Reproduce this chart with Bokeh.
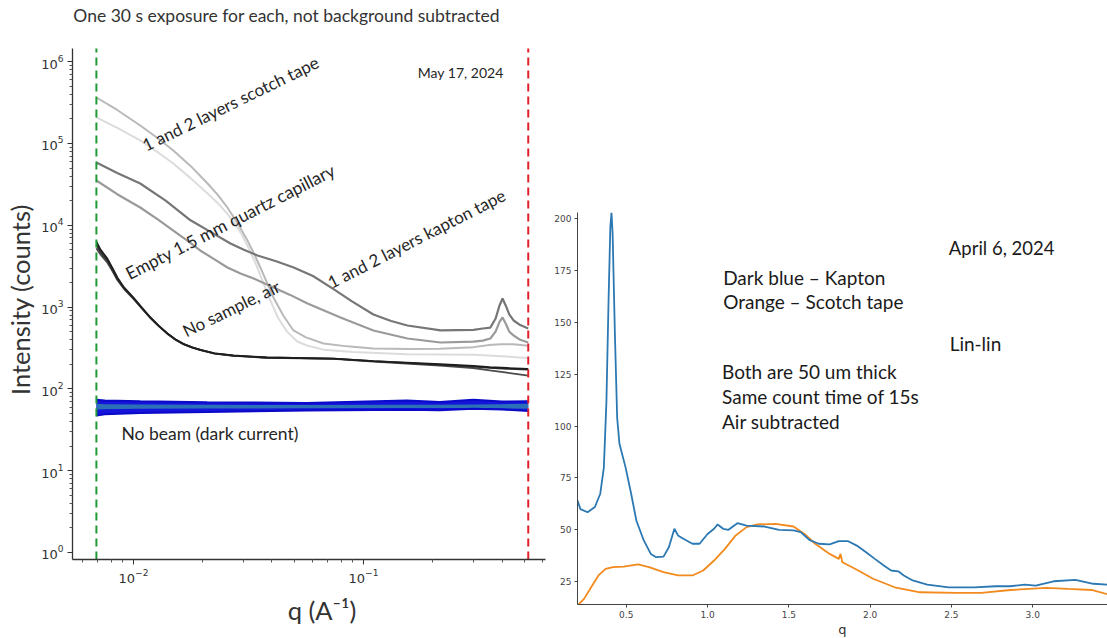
from bokeh.plotting import figure
from bokeh.models import Label, FixedTicker, LogTickFormatter, Range1d, PrintfTickFormatter, Spacer
from bokeh.layouts import row, column
from bokeh.embed import file_html
from bokeh.resources import INLINE

# ---------------- left panel: log-log, May 17, 2024 ----------------
q_cut_low = 0.0069
q_cut_high = 0.52
i_axis_min = 10 ** -0.0856
i_axis_max = 10 ** 6.161

q_scotch_a = [0.0069, 0.0085, 0.0107, 0.0128, 0.0149, 0.0178, 0.021, 0.0233, 0.0256, 0.0284,
              0.0313, 0.0336, 0.0356, 0.038, 0.0406, 0.0447, 0.0496, 0.0562, 0.067, 0.085,
              0.11, 0.16, 0.2148, 0.2999, 0.36, 0.40, 0.4477, 0.52]
i_scotch_a = [365000, 257000, 166000, 115000, 82000, 52500, 32400, 23400, 16500, 10500,
              6520, 4370, 3050, 2000, 1310, 794, 518, 427, 359, 331,
              312, 308, 309, 324, 347, 352, 352, 336]

q_scotch_b = [0.0069, 0.0085, 0.0107, 0.0128, 0.0149, 0.0178, 0.021, 0.0233, 0.0256, 0.0276,
              0.0295, 0.0317, 0.034, 0.0366, 0.0394, 0.0425, 0.0465, 0.0515, 0.0568, 0.067,
              0.09, 0.1542, 0.2999, 0.40, 0.52]
i_scotch_b = [208000, 155000, 109000, 77600, 57000, 37200, 24500, 18600, 13800, 10500,
              7760, 5250, 3390, 2000, 1200, 741, 501, 380, 339, 302,
              282, 266, 261, 251, 238]

q_kapton_a = [0.0069, 0.0085, 0.0107, 0.0138, 0.0177, 0.0219, 0.0264, 0.0302, 0.0346, 0.0417,
              0.0497, 0.0603, 0.0741, 0.0891, 0.1104, 0.1318, 0.1552, 0.2163, 0.3006, 0.33,
              0.356, 0.375, 0.39, 0.402, 0.415, 0.43, 0.449, 0.48, 0.52]
i_kapton_a = [58600, 43600, 32400, 20000, 11500, 8130, 6000, 5010, 4280, 3630,
              3050, 2400, 1660, 1175, 813, 676, 596, 518, 527, 547,
              562, 724, 1047, 1274, 1047, 813, 686, 603, 547]

q_kapton_b = [0.0069, 0.0085, 0.0107, 0.0128, 0.0149, 0.0172, 0.0195, 0.0226, 0.0256, 0.0292,
              0.0333, 0.0406, 0.048, 0.0571, 0.0794, 0.1104, 0.1552, 0.2163, 0.3006, 0.33,
              0.356, 0.375, 0.39, 0.402, 0.415, 0.43, 0.449, 0.48, 0.52]
i_kapton_b = [35300, 24000, 16500, 11700, 8630, 6460, 4920, 3800, 3050, 2570,
              2240, 1740, 1410, 1107, 746, 518, 413, 369, 379, 389,
              413, 501, 661, 746, 631, 501, 450, 398, 369]

q_air = [0.0069, 0.0072, 0.00767, 0.0081, 0.00851, 0.0091, 0.01, 0.0109, 0.01186, 0.0129,
         0.01406, 0.0152, 0.01648, 0.018, 0.01954, 0.0225, 0.0272, 0.038, 0.0741, 0.1104,
         0.2148, 0.30, 0.354, 0.42, 0.52]
i_air = [6310, 5010, 3980, 3020, 2300, 1740, 1310, 977, 746, 589,
         475, 405, 355, 322, 300, 272, 256, 242, 235, 219,
         200, 191, 184, 180, 175]
i_capillary = [5250, 4370, 3550, 2750, 2140, 1660, 1260, 955, 733, 582,
               470, 400, 352, 320, 298, 270, 254, 240, 233, 216,
               193, 180, 168, 158, 145]
i_air_2 = [5750, 4680, 3760, 2880, 2210, 1700, 1280, 966, 740, 586,
           473, 402, 353, 321, 299, 271, 255, 242, 234, 218,
           197, 187, 181, 176, 172]

q_dark = [0.0069, 0.0075, 0.0107, 0.0209, 0.0568, 0.1542, 0.2148, 0.2999, 0.40, 0.52]
dark_upper = [73.5, 72, 70.8, 68.9, 67, 72.1, 69, 73.5, 70, 70.8]
dark_lower = [47.4, 49, 50.6, 52.1, 54.6, 55.6, 55, 57.2, 56, 53.6]
dark_inner_upper = [66, 65, 64.6, 64, 63.5, 64, 64, 64.6, 65, 66]
dark_inner_lower = [56, 56.5, 57, 57.5, 58, 58.5, 58.5, 58.5, 58, 57]

y1_ticks = [1e0, 1e1, 1e2, 1e3, 1e4, 1e5, 1e6]
x1_ticks = [1e-2, 1e-1]

# ---------------- right panel: lin-lin, April 6, 2024 ----------------
q_kapton_lin = [0.20, 0.218, 0.262, 0.307, 0.34, 0.362, 0.378, 0.391, 0.402, 0.409, 0.416, 0.43,
                0.444, 0.458, 0.496, 0.53, 0.562, 0.607, 0.651, 0.684, 0.729, 0.762, 0.796, 0.818,
                0.851, 0.907, 0.951, 1.0, 1.04, 1.062, 1.096, 1.129, 1.162, 1.184, 1.24, 1.351,
                1.44, 1.529, 1.573, 1.629, 1.684, 1.751, 1.807, 1.862, 1.918, 1.973, 2.029, 2.084,
                2.129, 2.173, 2.207, 2.262, 2.351, 2.484, 2.64, 2.773, 2.862, 2.951, 3.018, 3.129,
                3.262, 3.373, 3.458]
i_kapton_lin = [64.1, 60, 58.5, 61, 67.4, 80, 112, 160.6, 196, 203, 193, 144.5,
                104, 91.5, 80, 67.4, 54.5, 45, 38.4, 36.8, 37.1, 41.6, 50.5, 47.3,
                45.7, 43.3, 43.3, 48, 50.5, 52.6, 50.5, 50, 52, 53.2, 52, 51.6,
                50, 49.7, 48.9, 45, 43.3, 43, 44.6, 44.6, 42.4, 39.3, 36, 32.8,
                30.4, 30, 28, 25.6, 23.6, 22.3, 22.3, 22.8, 22.8, 23.6, 23.1, 25.2,
                25.9, 24, 23.6]

q_scotch_lin = [0.2, 0.24, 0.284, 0.329, 0.373, 0.418, 0.484, 0.573, 0.64, 0.729, 0.818, 0.907,
                0.973, 1.04, 1.107, 1.173, 1.24, 1.307, 1.418, 1.529, 1.596, 1.662, 1.751, 1.807,
                1.818, 1.829, 1.907, 2.018, 2.151, 2.307, 2.529, 2.684, 2.862, 3.084, 3.218,
                3.362, 3.458]
i_scotch_lin = [13.5, 16.7, 22.3, 28, 31.2, 32, 32.3, 33.3, 32, 29.6, 28, 28,
                30.4, 35.2, 40.8, 47.3, 51.3, 52.6, 52.9, 51.6, 48, 43.3, 38.4, 36,
                38.4, 34.4, 31.2, 26.4, 22.3, 19.9, 19.6, 19.6, 21, 22, 21.5,
                21, 19]

x2_ticks = [0.5, 1.0, 1.5, 2.0, 2.5, 3.0]
y2_ticks = [25, 50, 75, 100, 125, 150, 175, 200]

ANN_FONT = "Lato"
TICK_FONT = "DejaVu Sans"
NB = "\u00a0"

# ================= left figure =================
p1 = figure(x_axis_type="log", y_axis_type="log",
            x_range=Range1d(10 ** -2.265, 10 ** -0.209),
            y_range=Range1d(i_axis_min, 10 ** 6.748),
            frame_width=473, frame_height=559,
            min_border_left=72, min_border_right=3, min_border_top=0, min_border_bottom=70,
            output_backend="svg", toolbar_location=None)
p1.xgrid.visible = False
p1.ygrid.visible = False
p1.outline_line_color = None
p1.background_fill_color = "white"

minor_x = [m * t for t in [1e-3, 1e-2, 1e-1] for m in range(2, 10)]
minor_y = [m * t for t in y1_ticks[:-1] for m in range(2, 10)]
p1.xaxis.ticker = FixedTicker(ticks=x1_ticks, minor_ticks=minor_x)
p1.yaxis.ticker = FixedTicker(ticks=y1_ticks, minor_ticks=minor_y)
p1.yaxis.bounds = (i_axis_min, i_axis_max)
p1.xaxis.formatter = LogTickFormatter()
p1.yaxis.formatter = LogTickFormatter()
for ax in (p1.xaxis, p1.yaxis):
    ax.axis_line_color = "#333333"
    ax.axis_line_width = 1.3
    ax.major_tick_line_color = "#333333"
    ax.minor_tick_line_color = "#555555"
    ax.major_tick_out = 5
    ax.major_tick_in = 0
    ax.minor_tick_out = 3
    ax.minor_tick_in = 0
    ax.major_label_text_font = TICK_FONT
    ax.major_label_text_font_size = "13px"
    ax.major_label_text_color = "#333333"
    ax.axis_label_text_font = ANN_FONT
    ax.axis_label_text_font_size = "25.5px"
    ax.axis_label_text_font_style = "normal"
    ax.axis_label_text_color = "#333333"
p1.xaxis.axis_label = NB * 4 + "q (A\u207b\u00b9)"
p1.yaxis.axis_label = "Intensity (counts)" + NB * 6
p1.xaxis.major_label_standoff = 4
p1.yaxis.major_label_standoff = 4
p1.xaxis.axis_label_standoff = 9
p1.yaxis.axis_label_standoff = 3

# dark current band
p1.varea(x=q_dark, y1=dark_lower, y2=dark_upper, fill_color="#1414dc", fill_alpha=1.0)
p1.varea(x=q_dark, y1=dark_inner_lower, y2=dark_inner_upper, fill_color="#2c70b8", fill_alpha=1.0)
p1.line(q_dark, dark_upper, line_color="#0a0ac8", line_width=2)
p1.line(q_dark, dark_lower, line_color="#0a0ac8", line_width=2)

# curves
p1.line(q_scotch_b, i_scotch_b, line_color="#dcdcdc", line_width=2)
p1.line(q_scotch_a, i_scotch_a, line_color="#b9b9b9", line_width=2)
p1.line(q_kapton_b, i_kapton_b, line_color="#9a9a9a", line_width=2.2)
p1.line(q_kapton_a, i_kapton_a, line_color="#767676", line_width=2.2)
p1.line(q_air, i_capillary, line_color="#4a4a4a", line_width=1.8)
p1.line(q_air, i_air_2, line_color="#333333", line_width=1.8)
p1.line(q_air, i_air, line_color="#1e1e1e", line_width=1.8)

# q-range cut markers
p1.segment(x0=[q_cut_low], y0=[i_axis_min], x1=[q_cut_low], y1=[i_axis_max],
           line_color="#1f9a35", line_dash="8 5", line_width=2)
p1.segment(x0=[q_cut_high], y0=[i_axis_min], x1=[q_cut_high], y1=[i_axis_max],
           line_color="#e3202a", line_dash="8 5", line_width=2)


def ann(p, x, y, text, size, angle=0, align="left", color="#262626"):
    p.add_layout(Label(x=x, y=y, text=text, angle=angle, angle_units="deg",
                       text_font=ANN_FONT, text_font_size=size, text_color=color,
                       text_align=align, text_baseline="middle"))


ann(p1, 0.00548, 3.67e6, "One 30 s exposure for each, not background subtracted", "17.5px",
    color="#333333")
ann(p1, 0.4064, 7.38e5, "May 17, 2024", "14px", align="right")
ann(p1, 0.02642, 3.08e5, "1 and 2 layers scotch tape", "17px", angle=26, align="center")
ann(p1, 0.02642, 1.11e4, "Empty 1.5 mm quartz capillary", "17.5px", angle=27, align="center")
ann(p1, 0.170, 6900, "1 and 2 layers kapton tape", "17px", angle=27, align="center")
ann(p1, 0.0266, 961, "No sample, air", "17px", angle=26, align="center")
ann(p1, 0.00887, 28.5, "No beam (dark current)", "17.5px")

# ================= right figure =================
p2 = figure(x_range=Range1d(0.2, 3.46), y_range=Range1d(14, 203),
            frame_width=530, frame_height=392,
            min_border_left=29, min_border_right=0, min_border_top=40, min_border_bottom=33,
            output_backend="svg", toolbar_location=None)
p2.xgrid.visible = False
p2.ygrid.visible = False
p2.outline_line_color = None
p2.xaxis.ticker = FixedTicker(ticks=x2_ticks)
p2.yaxis.ticker = FixedTicker(ticks=y2_ticks)
p2.xaxis.formatter = PrintfTickFormatter(format="%.1f")
for ax in (p2.xaxis, p2.yaxis):
    ax.axis_line_color = "#444444"
    ax.axis_line_width = 1
    ax.major_tick_line_color = "#444444"
    ax.minor_tick_line_color = None
    ax.major_tick_out = 3
    ax.major_tick_in = 0
    ax.major_label_text_font = TICK_FONT
    ax.major_label_text_font_size = "9px"
    ax.major_label_text_color = "#444444"
    ax.major_label_standoff = 3
p2.xaxis.axis_label = "q"
p2.xaxis.axis_label_text_font = TICK_FONT
p2.xaxis.axis_label_text_font_size = "13px"
p2.xaxis.axis_label_text_font_style = "normal"
p2.xaxis.axis_label_text_color = "#333333"
p2.xaxis.axis_label_standoff = 1

p2.line(q_scotch_lin, i_scotch_lin, line_color="#f28a1e", line_width=1.8)
p2.line(q_kapton_lin, i_kapton_lin, line_color="#2b78b2", line_width=1.8)

ann(p2, 2.484, 186, "April 6, 2024", "18.5px", color="#1a1a1a")
ann(p2, 1.096, 171.5, "Dark blue \u2013 Kapton", "19px", color="#1a1a1a")
ann(p2, 1.096, 160, "Orange \u2013 Scotch tape", "19px", color="#1a1a1a")
ann(p2, 2.489, 140, "Lin-lin", "19px", color="#1a1a1a")
ann(p2, 1.089, 126.5, "Both are 50 um thick", "19px", color="#1a1a1a")
ann(p2, 1.089, 114.3, "Same count time of 15s", "19px", color="#1a1a1a")
ann(p2, 1.089, 102.4, "Air subtracted", "19px", color="#1a1a1a")

right = column(Spacer(width=559, height=172), p2)
layout = row(p1, right)
open("out.html", "w").write(file_html(layout, INLINE))
